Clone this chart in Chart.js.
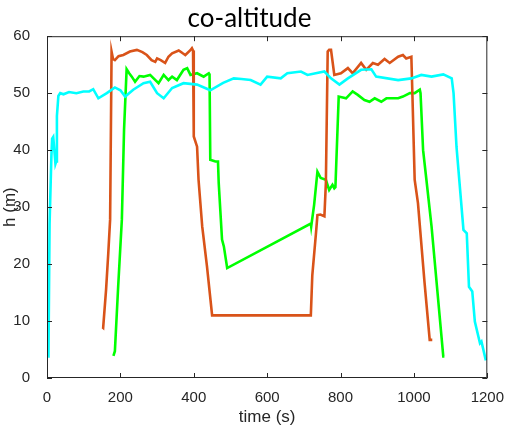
<!DOCTYPE html>
<html>
<head>
<meta charset="utf-8">
<title>co-altitude</title>
<script src="https://cdn.jsdelivr.net/npm/chart.js@4.4.1/dist/chart.umd.min.js"></script>
<style>
    html, body { margin: 0; padding: 0; background: #fff; }
    #wrap { width: 507px; height: 429px; }
</style>
</head>
<body>
<div id="wrap"><canvas id="altChart" width="507" height="429"></canvas></div>
<script>
// Series (time in s, height in m)
const cyanTime = [3, 4, 7, 12, 14, 17, 20, 23, 25, 27, 31, 36, 45, 60, 80, 99, 115, 126, 140, 163, 185, 200, 213, 235, 263, 281, 300, 318, 341, 372, 409, 445, 480, 509, 530, 555, 582, 600, 637, 655, 692, 710, 756, 774, 797, 820, 856, 884, 897, 957, 993, 1020, 1048, 1080, 1103, 1108, 1116, 1135, 1144, 1150, 1159, 1166, 1180, 1184, 1196];
const cyanH = [3.8, 4, 27, 39, 42, 42.3, 40, 37.6, 38, 46, 49.5, 50, 49.8, 50.2, 50, 50.3, 50.3, 50.7, 49.1, 50, 51, 50.5, 49.4, 50.6, 51.75, 52, 50, 49.1, 50.9, 51.75, 51.5, 50.5, 51.8, 52.6, 52.5, 52.3, 51.5, 52.9, 52.6, 53.5, 53.8, 53.2, 53.8, 52.6, 51.5, 52.6, 54.1, 54.2, 52.9, 52.3, 52.6, 53.2, 52.9, 53.3, 52.6, 50, 40.6, 26, 25.4, 16, 15.2, 9.9, 6.1, 6.4, 3.1];

const orangeTime = [151, 153, 161, 167, 172, 176, 180, 185, 195, 208, 226, 245, 260, 272, 285, 295, 300, 310, 322, 331, 341, 359, 370, 377, 390, 395, 398, 400, 409, 413, 423, 436, 450, 719, 723, 733, 737, 745, 756, 760, 765, 769, 774, 783, 801, 820, 833, 856, 870, 888, 902, 920, 934, 957, 970, 979, 993, 996, 1002, 1011, 1029, 1043, 1050];
const orangeH = [8.9, 8.8, 15.5, 21.9, 27.8, 57.3, 56, 55.8, 56.5, 56.7, 57.3, 57.6, 57.2, 56.7, 55.8, 55.5, 56.1, 55.8, 55.3, 56.4, 57, 57.5, 57, 56.7, 57.5, 57.9, 57.5, 42.4, 40.6, 34.8, 26.6, 19.6, 11, 11, 18, 25.4, 28.6, 28.7, 28.4, 34.2, 57.3, 57.6, 57.6, 53.2, 53.5, 54.4, 53.5, 55.3, 54.1, 55.3, 55, 56, 55.3, 56.4, 56.7, 56.1, 56.4, 49.4, 34.8, 30.7, 16.7, 6.7, 6.7];

const greenTime = [181, 185, 194, 204, 210, 217, 224, 231, 240, 252, 263, 281, 292, 304, 318, 331, 341, 354, 372, 382, 391, 409, 427, 441, 443, 445, 459, 466, 468, 477, 482, 491, 719, 720, 728, 737, 746, 760, 769, 778, 783, 786, 795, 815, 833, 847, 865, 879, 893, 911, 925, 957, 970, 989, 1002, 1016, 1018, 1025, 1034, 1048, 1080, 1083];
const greenH = [3.9, 4.7, 16.1, 27.8, 43.6, 54.2, 53.5, 52.9, 52, 53, 52.9, 53.2, 52.5, 51.75, 53.2, 52.3, 52.9, 52.3, 54.1, 54.4, 53.2, 53.5, 52.9, 53.5, 53.3, 38.3, 38, 38, 34.2, 24.3, 23.1, 19.3, 27.1, 26.6, 30.4, 36.2, 35.1, 34.8, 33, 33.9, 33.3, 33.5, 49.4, 49.1, 50.3, 49.7, 48.8, 48.5, 49.1, 48.5, 49.1, 49.1, 49.4, 50, 50, 50.6, 50, 40, 34.8, 26.6, 3.8, 3.8];

const xTicks = [0, 200, 400, 600, 800, 1000, 1200];
const yTicks = [0, 10, 20, 30, 40, 50, 60];

const axisColor = '#262626';

function toPoints(xs, ys) {
    return xs.map((x, i) => ({ x: x, y: ys[i] }));
}

// Box around the plot with inward ticks, matlab style
const boxPlugin = {
    id: 'boxPlugin',
    afterDatasetsDraw(chart) {
        const ctx = chart.ctx;
        const area = chart.chartArea;
        const xs = chart.scales.x;
        const ys = chart.scales.y;
        const len = 5;
        ctx.save();
        ctx.strokeStyle = axisColor;
        ctx.lineWidth = 1;
        ctx.beginPath();
        ctx.rect(area.left + 0.5, area.top + 0.5, area.right - area.left - 1, area.bottom - area.top - 1);
        xTicks.forEach(v => {
            const px = Math.round(xs.getPixelForValue(v)) + 0.5;
            ctx.moveTo(px, area.bottom);
            ctx.lineTo(px, area.bottom - len);
            ctx.moveTo(px, area.top);
            ctx.lineTo(px, area.top + len);
        });
        yTicks.forEach(v => {
            const py = Math.round(ys.getPixelForValue(v)) + 0.5;
            ctx.moveTo(area.left, py);
            ctx.lineTo(area.left + len, py);
            ctx.moveTo(area.right, py);
            ctx.lineTo(area.right - len, py);
        });
        ctx.stroke();
        ctx.restore();
    }
};

document.addEventListener('DOMContentLoaded', function () {
    const ctx = document.getElementById('altChart').getContext('2d');
    new Chart(ctx, {
        type: 'line',
        data: {
            datasets: [{
                label: 'cyan',
                data: toPoints(cyanTime, cyanH),
                borderColor: '#00FFFF',
                borderWidth: 2.6
            }, {
                label: 'orange',
                data: toPoints(orangeTime, orangeH),
                borderColor: '#D95319',
                borderWidth: 2.6
            }, {
                label: 'green',
                data: toPoints(greenTime, greenH),
                borderColor: '#00FF00',
                borderWidth: 2.6
            }]
        },
        options: {
            responsive: false,
            animation: false,
            events: [],
            layout: { padding: { left: 0, right: 8, top: 0, bottom: 0 } },
            elements: {
                point: { radius: 0 },
                line: { tension: 0 }
            },
            plugins: {
                legend: { display: false },
                tooltip: { enabled: false },
                title: {
                    display: true,
                    text: 'co-altitude',
                    color: '#000',
                    font: { family: 'Lato', size: 26, weight: 'normal' },
                    padding: { top: 3, bottom: 2 }
                }
            },
            scales: {
                x: {
                    type: 'linear',
                    min: 0,
                    max: 1200,
                    afterBuildTicks: s => { s.ticks = xTicks.map(v => ({ value: v })); },
                    afterFit: s => { s.height = 51; },
                    grid: { display: false },
                    border: { display: false },
                    ticks: {
                        color: axisColor,
                        font: { family: 'Liberation Sans', size: 15 },
                        padding: 3,
                        maxRotation: 0,
                        callback: v => String(v)
                    },
                    title: {
                        display: true,
                        text: 'time (s)',
                        color: axisColor,
                        font: { family: 'Liberation Sans', size: 17 },
                        padding: { top: 0, bottom: 1 }
                    }
                },
                y: {
                    type: 'linear',
                    min: 0,
                    max: 60,
                    afterBuildTicks: s => { s.ticks = yTicks.map(v => ({ value: v })); },
                    afterFit: s => { s.width = 47; },
                    grid: { display: false },
                    border: { display: false },
                    ticks: {
                        color: axisColor,
                        font: { family: 'Liberation Sans', size: 15 },
                        padding: 9
                    },
                    title: {
                        display: true,
                        text: 'h (m)',
                        color: axisColor,
                        font: { family: 'Liberation Sans', size: 17 },
                        padding: { top: 0, bottom: 0 }
                    }
                }
            }
        },
        plugins: [boxPlugin]
    });
});
</script>
</body>
</html>
